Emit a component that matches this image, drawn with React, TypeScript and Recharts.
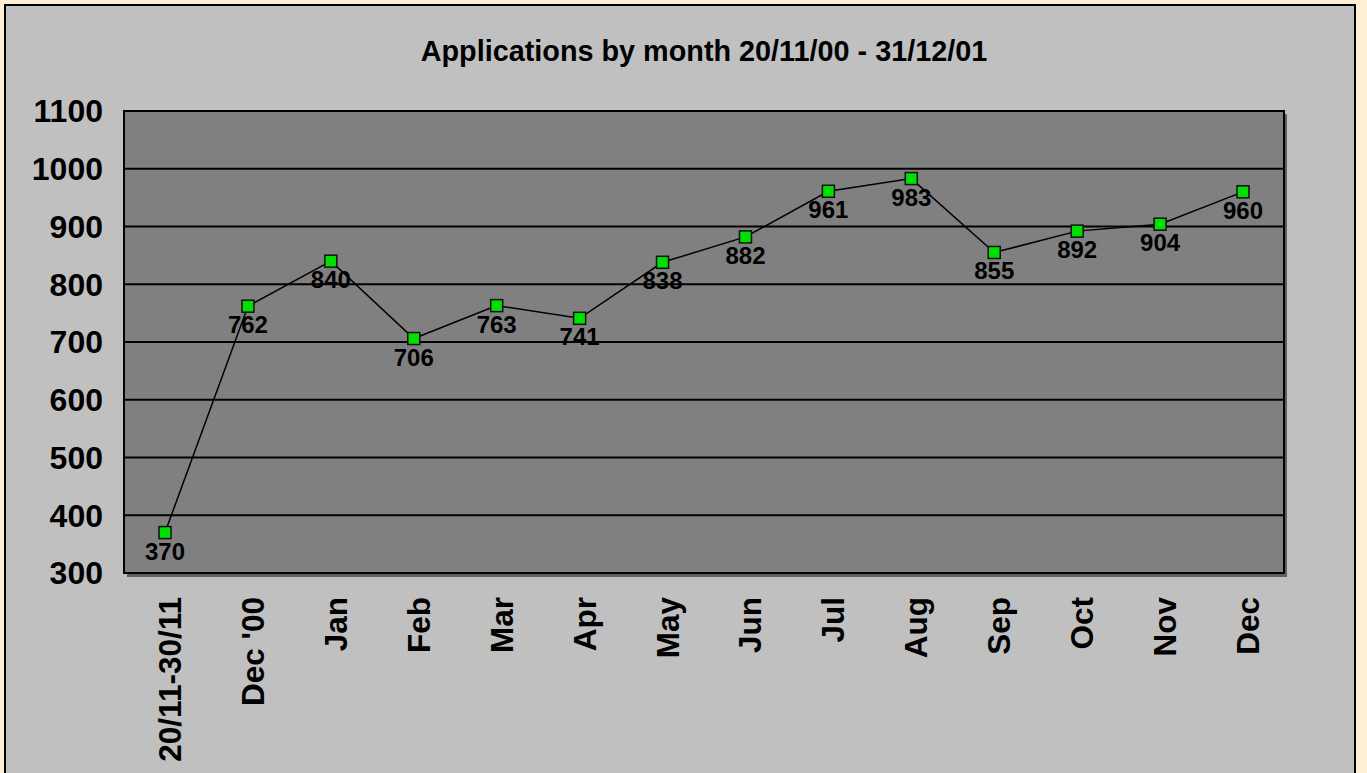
import { CartesianGrid, LabelList, Line, LineChart, XAxis, YAxis } from 'recharts'

const months = [
  '20/11-30/11',
  "Dec '00",
  'Jan',
  'Feb',
  'Mar',
  'Apr',
  'May',
  'Jun',
  'Jul',
  'Aug',
  'Sep',
  'Oct',
  'Nov',
  'Dec',
]
const applications = [370, 762, 840, 706, 763, 741, 838, 882, 961, 983, 855, 892, 904, 960]
const yTicks = [300, 400, 500, 600, 700, 800, 900, 1000, 1100]

const data = months.map((month, i) => ({ month, applications: applications[i] }))

const FONT = '"Liberation Sans", Arial, sans-serif'

function MonthTick({ x, y, payload }: any) {
  return (
    <text
      transform={`translate(${x},${y}) rotate(-90)`}
      textAnchor="end"
      dominantBaseline="central"
      dy={5}
      fontFamily={FONT}
      fontWeight="bold"
      fontSize={31.5}
      fill="#000"
    >
      {payload.value}
    </text>
  )
}

function SquareDot({ cx, cy, index }: any) {
  return (
    <rect
      key={`dot-${index}`}
      x={cx - 6}
      y={cy - 6}
      width={12}
      height={12}
      fill="#00E000"
      stroke="#111"
      strokeWidth={1.5}
    />
  )
}

function ValueLabel({ x, y, value }: any) {
  return (
    <text
      x={x}
      y={y + 27}
      textAnchor="middle"
      fontFamily={FONT}
      fontWeight="bold"
      fontSize={24}
      fill="#000"
    >
      {value}
    </text>
  )
}

export default function App() {
  return (
    <div
      style={{
        position: 'fixed',
        left: 0,
        top: 0,
        width: 1367,
        height: 773,
        overflow: 'hidden',
        background: '#FFEFD5',
      }}
    >
      <div
        style={{
          position: 'absolute',
          left: 4,
          top: 4,
          width: 1348,
          height: 800,
          border: '2px solid #000',
          background: '#C0C0C0',
        }}
      />
      {/* plot area shadow + background */}
      <div
        style={{
          position: 'absolute',
          left: 127,
          top: 114,
          width: 1160,
          height: 463,
          background: '#606060',
        }}
      />
      <div
        style={{
          position: 'absolute',
          left: 123,
          top: 110,
          width: 1158,
          height: 460,
          border: '2px solid #000',
          background: '#808080',
        }}
      />
      <div
        style={{
          position: 'absolute',
          left: 124,
          top: 37,
          width: 1160,
          textAlign: 'center',
          fontFamily: FONT,
          fontWeight: 'bold',
          fontSize: 28.8,
          lineHeight: '28px',
          color: '#000',
        }}
      >
        Applications by month 20/11/00 - 31/12/01
      </div>
      <div style={{ position: 'absolute', left: 0, top: 0 }}>
        <LineChart
          width={1367}
          height={773}
          data={data}
          margin={{ top: 111, right: 83, bottom: 10, left: 24 }}
        >
          <CartesianGrid vertical={false} stroke="#000" strokeWidth={2} strokeDasharray="" />
          <XAxis
            dataKey="month"
            height={190}
            axisLine={false}
            tickLine={false}
            tickSize={0}
            tickMargin={24}
            interval={0}
            padding={{ left: 41, right: 41 }}
            tick={<MonthTick />}
          />
          <YAxis
            width={100}
            domain={[300, 1100]}
            ticks={yTicks}
            axisLine={false}
            tickLine={false}
            tickSize={0}
            tickMargin={21}
            tick={{ fontFamily: FONT, fontWeight: 'bold', fontSize: 32, fill: '#000' }}
          />
          <Line
            type="linear"
            dataKey="applications"
            stroke="#000"
            strokeWidth={1.5}
            dot={<SquareDot />}
            activeDot={false}
            isAnimationActive={false}
          >
            <LabelList dataKey="applications" content={<ValueLabel />} />
          </Line>
        </LineChart>
      </div>
    </div>
  )
}
